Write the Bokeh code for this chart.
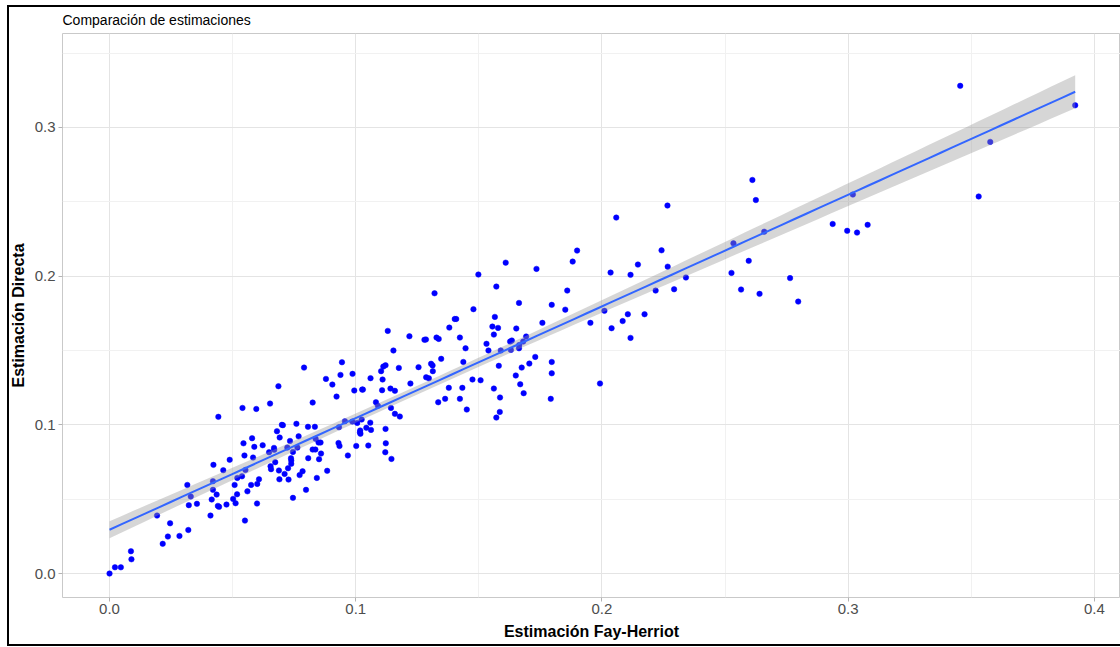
import numpy as np
from bokeh.plotting import figure
from bokeh.models import FixedTicker, ColumnDataSource, Range1d
from bokeh.embed import file_html
from bokeh.resources import INLINE

# ---- data ----
fh = [
    0.0000, 0.0022, 0.0046, 0.0087, 0.0089, 0.0193, 0.0216, 0.0237, 0.0246, 0.0284,
    0.0320, 0.0316, 0.0330, 0.0322, 0.0355, 0.0410, 0.0422, 0.0420, 0.0420, 0.0435,
    0.0415, 0.0442, 0.0440, 0.0445, 0.0462, 0.0475, 0.0488, 0.0502, 0.0512, 0.0508,
    0.0519, 0.0518, 0.0538, 0.0540, 0.0544, 0.0548, 0.0550, 0.0552, 0.0560, 0.0575,
    0.0579, 0.0583, 0.0588, 0.0596, 0.0599, 0.0600, 0.0607, 0.0622, 0.0648, 0.0652,
    0.0654, 0.0656, 0.0668, 0.0669, 0.0673, 0.0680, 0.0686, 0.0688, 0.0690, 0.0691,
    0.0700, 0.0704, 0.0711, 0.0722, 0.0725, 0.0727, 0.0733, 0.0737, 0.0738, 0.0738,
    0.0745, 0.0745, 0.0759, 0.0763, 0.0768, 0.0772, 0.0784, 0.0798, 0.0806, 0.0807,
    0.0825, 0.0825, 0.0836, 0.0834, 0.0837, 0.0842, 0.0849, 0.0857, 0.0851, 0.0859,
    0.0884, 0.0905, 0.0922, 0.0932, 0.0930, 0.0934, 0.0956, 0.0968, 0.0986, 0.0994,
    0.1002, 0.1006, 0.1017,
    0.0790, 0.0879, 0.0944, 0.0938, 0.0987, 0.1026, 0.1029, 0.1060, 0.1082, 0.1090,
    0.1103, 0.1112, 0.1121, 0.1109, 0.1107, 0.1130, 0.1141, 0.1159, 0.1143, 0.1159,
    0.1179, 0.1153, 0.1175, 0.1218, 0.1222, 0.1255, 0.1279, 0.1285, 0.1286, 0.1297,
    0.1306, 0.1312, 0.1313, 0.1328, 0.1337, 0.1347, 0.1335, 0.1363, 0.1378, 0.1380,
    0.1402, 0.1408, 0.1423, 0.1423, 0.1433, 0.1437, 0.1446, 0.1451, 0.1478, 0.1474,
    0.1507, 0.1531, 0.1539, 0.1555, 0.1578, 0.1561, 0.1565, 0.1561, 0.1581, 0.1586,
    0.1585, 0.1571, 0.1589, 0.1627, 0.1634, 0.1630, 0.1652, 0.1663, 0.1663, 0.1664,
    0.1680, 0.1692, 0.1650, 0.1674, 0.1668, 0.1682, 0.1705, 0.1729, 0.1758, 0.1796,
    0.1796, 0.1796, 0.1792, 0.1851,
    0.1121, 0.1122, 0.1120, 0.1145, 0.1062, 0.1059, 0.1043, 0.1024, 0.1018, 0.1019,
    0.1051,
    0.1609, 0.1498, 0.1734, 0.1899, 0.1881, 0.1320, 0.1571, 0.1859,
    0.1953, 0.2010, 0.2039, 0.2035, 0.2058, 0.2105, 0.2084, 0.2116, 0.2116, 0.2146,
    0.2173, 0.2218, 0.2242, 0.2266, 0.2267, 0.2293, 0.2341, 0.2526, 0.2534, 0.2565,
    0.2596, 0.2611, 0.2625, 0.2640, 0.2659, 0.2764, 0.2797, 0.2937, 0.2996, 0.3019,
    0.3036, 0.3079, 0.1992,
    0.3455, 0.3577, 0.3922, 0.3530,
]
directa = [
    0.0000, 0.0042, 0.0042, 0.0150, 0.0096, 0.0390, 0.0200, 0.0249, 0.0338, 0.0253,
    0.0293, 0.0596, 0.0518, 0.0460, 0.0469, 0.0390, 0.0731, 0.0621, 0.0563, 0.0531,
    0.0498, 0.1054, 0.0455, 0.0449, 0.0695, 0.0464, 0.0765, 0.0502, 0.0473, 0.0596,
    0.0643, 0.0533, 0.0654, 0.1114, 0.0876, 0.0794, 0.0356, 0.0697, 0.0553, 0.0596,
    0.0910, 0.0780, 0.0852, 0.1107, 0.0471, 0.0603, 0.0634, 0.0863, 0.0816, 0.1143,
    0.0722, 0.0702, 0.0845, 0.0832, 0.0749, 0.0957, 0.1260, 0.0693, 0.0634, 0.0915,
    0.1000, 0.0998, 0.0670, 0.0847, 0.0708, 0.0632, 0.0892, 0.0776, 0.0760, 0.0738,
    0.0509, 0.0818, 0.1007, 0.0847, 0.0923, 0.0662, 0.0688, 0.0563, 0.0987, 0.0776,
    0.1150, 0.0834, 0.0834, 0.0987, 0.0906, 0.0643, 0.0881, 0.0881, 0.0769, 0.0807,
    0.0691, 0.1271, 0.1190, 0.0984, 0.0878, 0.0858, 0.1024, 0.0794, 0.1022, 0.1231,
    0.0858, 0.1013, 0.0950,
    0.1385, 0.1309, 0.1421, 0.1336, 0.1343, 0.1237, 0.1237, 0.1314, 0.1152, 0.1128,
    0.1361, 0.1392, 0.1401, 0.1305, 0.1233, 0.1632, 0.1244, 0.1229, 0.1114, 0.1074,
    0.1056, 0.1500, 0.1383, 0.1596, 0.1278, 0.1388, 0.1572, 0.1574, 0.1320, 0.1313,
    0.1411, 0.1400, 0.1361, 0.1587, 0.1578, 0.1444, 0.1152, 0.1175, 0.1249, 0.1654,
    0.1712, 0.1712, 0.1587, 0.1175, 0.1249, 0.1423, 0.1515, 0.1103, 0.1778, 0.1305,
    0.1300, 0.1545, 0.1500, 0.1661, 0.1652, 0.1607, 0.1726, 0.1244, 0.1397, 0.1184,
    0.1087, 0.1049, 0.1500, 0.1560, 0.1567, 0.1504, 0.1648, 0.1820, 0.1515, 0.1537,
    0.1560, 0.1594, 0.1332, 0.1385, 0.1273, 0.1213, 0.1412, 0.1457, 0.1686, 0.1807,
    0.1423, 0.1347, 0.1175, 0.1775,
    0.0973, 0.0876, 0.0816, 0.0771, 0.0966, 0.1015, 0.0980, 0.1036, 0.0962, 0.0940,
    0.0861,
    0.2091, 0.2011, 0.2049, 0.2172, 0.2098, 0.1885, 0.1930, 0.1903,
    0.1686, 0.1767, 0.1650, 0.2024, 0.2394, 0.1744, 0.1698, 0.2009, 0.1585, 0.2078,
    0.1744, 0.1903, 0.2174, 0.2475, 0.2064, 0.1912, 0.1991, 0.2022, 0.2221, 0.1910,
    0.2103, 0.2647, 0.2512, 0.1881, 0.2299, 0.1987, 0.1829, 0.2351, 0.2305, 0.2549,
    0.2293, 0.2345, 0.1278,
    0.3280, 0.2903, 0.3149, 0.2536,
]
x_ticks = [0.0, 0.1, 0.2, 0.3, 0.4]
x_tick_labels = ["0.0", "0.1", "0.2", "0.3", "0.4"]
y_ticks = [0.0, 0.1, 0.2, 0.3]
y_tick_labels = ["0.0", "0.1", "0.2", "0.3"]
x_minor = [0.05, 0.15, 0.25, 0.35]
y_minor = [0.05, 0.15, 0.25, 0.35]

subtitle = "Comparación de estimaciones"
x_title = "Estimación Fay-Herriot"
y_title = "Estimación Directa"

# ---- linear fit with 95% confidence band (as geom_smooth(method="lm")) ----
xa = np.array(fh)
ya = np.array(directa)
n = len(xa)
b1, b0 = np.polyfit(xa, ya, 1)
res = ya - (b0 + b1 * xa)
sigma = np.sqrt(np.sum(res ** 2) / (n - 2))
xbar = xa.mean()
sxx = np.sum((xa - xbar) ** 2)
xs = np.linspace(xa.min(), xa.max(), 80)
fit = b0 + b1 * xs
se = sigma * np.sqrt(1.0 / n + (xs - xbar) ** 2 / sxx)
tval = 1.9705
lower = fit - tval * se
upper = fit + tval * se

FONT = "Liberation Sans"

p = figure(
    width=1120, height=647,
    output_backend="svg", toolbar_location=None,
    x_range=Range1d(-0.0191, 0.4106), y_range=Range1d(-0.0161, 0.3632),
    min_border_left=62, min_border_right=0, min_border_top=33, min_border_bottom=50,
    background_fill_color="white", border_fill_color=None,
)
# page frame of the screenshot: black rules on left, top and bottom (open on the right),
# painted as the element background behind the transparent border area
p.styles = {
    "background-color": "white",
    "background-image": "linear-gradient(#000000, #000000), linear-gradient(#000000, #000000), linear-gradient(#000000, #000000)",
    "background-size": "2px 641px, 1113px 2px, 1113px 2px",
    "background-position": "7px 5px, 7px 5px, 7px 644px",
    "background-repeat": "no-repeat",
}

p.title.text = subtitle
p.title.text_font = FONT
p.title.text_font_size = "14px"
p.title.text_font_style = "normal"
p.title.text_color = "black"
p.title.align = "left"
p.title.standoff = 11

p.outline_line_color = "#c9c9c9"
p.outline_line_width = 1

for ax, ticks, labels, minor in ((p.xaxis[0], x_ticks, x_tick_labels, x_minor),
                                 (p.yaxis[0], y_ticks, y_tick_labels, y_minor)):
    ax.ticker = FixedTicker(ticks=ticks, minor_ticks=minor)
    ax.major_label_overrides = {t: l for t, l in zip(ticks, labels)}
    ax.axis_line_color = None
    ax.major_tick_line_color = "#b3b3b3"
    ax.major_tick_out = 4
    ax.major_tick_in = 0
    ax.minor_tick_line_color = None
    ax.major_label_text_font = FONT
    ax.major_label_text_font_size = "15px"
    ax.major_label_text_color = "#4d4d4d"
    ax.axis_label_text_font = FONT
    ax.axis_label_text_font_size = "16px"
    ax.axis_label_text_font_style = "bold"
    ax.axis_label_text_color = "black"

p.xaxis.axis_label = x_title
p.yaxis.axis_label = y_title
p.xaxis.major_label_standoff = 2
p.xaxis.axis_label_standoff = 6
p.yaxis.major_label_standoff = 3
p.yaxis.axis_label_standoff = 5

p.grid.grid_line_color = "#e4e4e4"
p.grid.grid_line_width = 1
p.grid.minor_grid_line_color = "#f1f1f1"
p.grid.minor_grid_line_width = 1

src_pts = ColumnDataSource(dict(x=fh, y=directa))
src_fit = ColumnDataSource(dict(x=xs, fit=fit, lower=lower, upper=upper))

p.scatter("x", "y", source=src_pts, size=5.5, fill_color="#0000ff", line_color="#0000ff", line_width=0.5)
p.varea(x="x", y1="lower", y2="upper", source=src_fit, fill_color="#999999", fill_alpha=0.4)
p.line("x", "fit", source=src_fit, line_color="#3366ff", line_width=2)

open("out.html", "w").write(file_html(p, INLINE))
